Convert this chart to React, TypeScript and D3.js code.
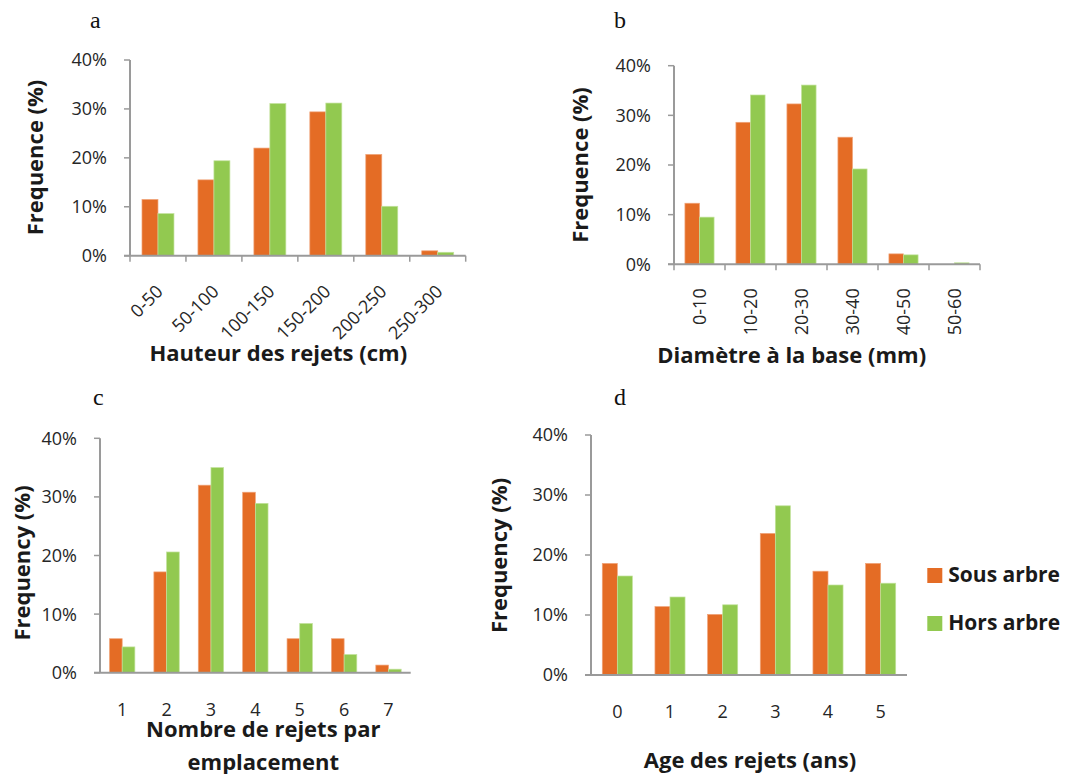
import React from 'react';
import * as d3 from 'd3';

// Shoot frequencies (%) under the tree canopy ("Sous arbre") and in the open ("Hors arbre")
const heightCats = ['0-50', '50-100', '100-150', '150-200', '200-250', '250-300'];
const heightSous = [11.5, 15.5, 22.0, 29.4, 20.7, 1.0];
const heightHors = [8.6, 19.4, 31.1, 31.2, 10.1, 0.7];

const diamCats = ['0-10', '10-20', '20-30', '30-40', '40-50', '50-60'];
const diamSous = [12.3, 28.6, 32.3, 25.6, 2.1, 0];
const diamHors = [9.5, 34.1, 36.1, 19.2, 1.9, 0.3];

const countCats = ['1', '2', '3', '4', '5', '6', '7'];
const countSous = [5.8, 17.2, 32.0, 30.8, 5.8, 5.8, 1.3];
const countHors = [4.4, 20.6, 35.0, 28.9, 8.4, 3.1, 0.6];

const ageCats = ['0', '1', '2', '3', '4', '5'];
const ageSous = [18.6, 11.4, 10.1, 23.6, 17.3, 18.6];
const ageHors = [16.5, 13.0, 11.7, 28.2, 15.0, 15.3];

const yTicks = [0, 10, 20, 30, 40];
const seriesNames = ['Sous arbre', 'Hors arbre'];

const ORANGE = '#E46C25';
const ORANGE_EDGE = '#F0A47A';
const GREEN = '#92C950';
const GREEN_EDGE = '#C2E29C';
const AXIS = '#9a9a9a';
const TEXT = '#262626';
const SANS = "'Open Sans', sans-serif";
const SERIF = "'Liberation Serif', serif";
const TICK_FONT = 18;

type LabelMode = 'flat' | 'rot45' | 'rot90';

interface PanelProps {
  letter: string;
  letterX: number;
  letterY: number;
  cats: string[];
  sous: number[];
  hors: number[];
  x0: number;
  x1: number;
  yTop: number;
  yBot: number;
  xTicks: boolean;
  labelMode: LabelMode;
  yTitle: string;
  yTitleX: number;
  yTitleY: number;
  xTitle: string[];
  xTitleX: number;
  xTitleY: number;
}

function Panel(p: PanelProps) {
  const x = d3.scaleBand<string>().domain(p.cats).range([p.x0, p.x1]).padding(0);
  const y = d3.scaleLinear().domain([0, 40]).range([p.yBot, p.yTop]);
  const step = x.step();
  const bw = step / 3.5; // Excel-style 150% gap width
  const fmt = (v: number) => `${v}%`;

  return (
    <g>
      <text x={p.letterX} y={p.letterY} fontFamily={SERIF} fontSize={24} fill="#111">
        {p.letter}
      </text>

      {/* bars */}
      {p.cats.map((c, i) => {
        const cx = (x(c) as number) + step / 2;
        return (
          <g key={c}>
            {p.sous[i] > 0 && (
              <rect
                x={cx - bw}
                y={y(p.sous[i])}
                width={bw}
                height={y(0) - y(p.sous[i])}
                fill={ORANGE}
                stroke={ORANGE_EDGE}
                strokeWidth={0.7}
              />
            )}
            {p.hors[i] > 0 && (
              <rect
                x={cx}
                y={y(p.hors[i])}
                width={bw}
                height={y(0) - y(p.hors[i])}
                fill={GREEN}
                stroke={GREEN_EDGE}
                strokeWidth={0.7}
              />
            )}
          </g>
        );
      })}

      {/* y axis */}
      <line x1={p.x0} x2={p.x0} y1={p.yTop} y2={p.yBot} stroke={AXIS} strokeWidth={2} />
      {yTicks.map((t) => (
        <g key={t}>
          <line x1={p.x0 - 6} x2={p.x0} y1={y(t)} y2={y(t)} stroke={AXIS} strokeWidth={1.5} />
          <text
            x={p.x0 - 23}
            y={y(t)}
            dy="0.36em"
            textAnchor="end"
            fontFamily={SANS}
            fontSize={TICK_FONT}
            fill={TEXT}
          >
            {fmt(t)}
          </text>
        </g>
      ))}

      {/* x axis */}
      <line x1={p.x0 - 6} x2={p.x1} y1={p.yBot} y2={p.yBot} stroke={AXIS} strokeWidth={2} />
      {p.xTicks &&
        d3.range(p.cats.length + 1).map((i) => {
          const tx = p.x0 + i * step;
          return <line key={i} x1={tx} x2={tx} y1={p.yBot} y2={p.yBot + 6} stroke={AXIS} strokeWidth={1.5} />;
        })}
      {p.cats.map((c) => {
        const cx = (x(c) as number) + step / 2;
        if (p.labelMode === 'flat') {
          return (
            <text key={c} x={cx} y={p.yBot + 43} textAnchor="middle" fontFamily={SANS} fontSize={TICK_FONT} fill={TEXT}>
              {c}
            </text>
          );
        }
        if (p.labelMode === 'rot45') {
          const ax = cx + 6;
          const ay = p.yBot + 37;
          return (
            <text
              key={c}
              x={ax}
              y={ay}
              transform={`rotate(-45 ${ax} ${ay})`}
              textAnchor="end"
              fontFamily={SANS}
              fontSize={TICK_FONT}
              fill={TEXT}
            >
              {c}
            </text>
          );
        }
        const ay = p.yBot + 24;
        return (
          <text
            key={c}
            x={cx}
            y={ay}
            dy="0.36em"
            transform={`rotate(-90 ${cx} ${ay})`}
            textAnchor="end"
            fontFamily={SANS}
            fontSize={TICK_FONT}
            fill={TEXT}
          >
            {c}
          </text>
        );
      })}

      {/* axis titles */}
      <text
        x={p.yTitleX}
        y={p.yTitleY}
        dy="0.36em"
        transform={`rotate(-90 ${p.yTitleX} ${p.yTitleY})`}
        textAnchor="middle"
        fontFamily={SANS}
        fontWeight="bold"
        fontSize={22}
        fill="#1a1a1a"
      >
        {p.yTitle}
      </text>
      {p.xTitle.map((line, i) => (
        <text
          key={line}
          x={p.xTitleX}
          y={p.xTitleY + i * 33}
          textAnchor="middle"
          fontFamily={SANS}
          fontWeight="bold"
          fontSize={22}
          fill="#1a1a1a"
        >
          {line}
        </text>
      ))}
    </g>
  );
}

export default function App() {
  return (
    <svg
      width={1065}
      height={774}
      style={{ position: 'absolute', left: 0, top: 0, background: '#fff' }}
    >
      <rect width={1065} height={774} fill="#fff" />
      <Panel
        letter="a"
        letterX={90}
        letterY={28}
        cats={heightCats}
        sous={heightSous}
        hors={heightHors}
        x0={130}
        x1={465.7}
        yTop={60}
        yBot={255.7}
        xTicks={true}
        labelMode="rot45"
        yTitle="Frequence (%)"
        yTitleX={35}
        yTitleY={157.5}
        xTitle={['Hauteur des rejets (cm)']}
        xTitleX={278.3}
        xTitleY={361}
      />
      <Panel
        letter="b"
        letterX={614}
        letterY={28}
        cats={diamCats}
        sous={diamSous}
        hors={diamHors}
        x0={674}
        x1={980}
        yTop={65.7}
        yBot={264.3}
        xTicks={true}
        labelMode="rot90"
        yTitle="Frequence (%)"
        yTitleX={580}
        yTitleY={165}
        xTitle={['Diamètre à la base (mm)']}
        xTitleX={791.7}
        xTitleY={363}
      />
      <Panel
        letter="c"
        letterX={93}
        letterY={405}
        cats={countCats}
        sous={countSous}
        hors={countHors}
        x0={100}
        x1={410.7}
        yTop={438.3}
        yBot={672.7}
        xTicks={false}
        labelMode="flat"
        yTitle="Frequency (%)"
        yTitleX={22}
        yTitleY={563}
        xTitle={['Nombre de rejets par', 'emplacement']}
        xTitleX={263.3}
        xTitleY={737}
      />
      <Panel
        letter="d"
        letterX={614}
        letterY={405}
        cats={ageCats}
        sous={ageSous}
        hors={ageHors}
        x0={591}
        x1={907}
        yTop={435}
        yBot={675}
        xTicks={false}
        labelMode="flat"
        yTitle="Frequency (%)"
        yTitleX={498.7}
        yTitleY={555.5}
        xTitle={['Age des rejets (ans)']}
        xTitleX={750}
        xTitleY={768}
      />

      {/* legend */}
      {seriesNames.map((name, i) => (
        <g key={name}>
          <rect x={927.3} y={568 + i * 48} width={15} height={15} fill={i === 0 ? ORANGE : GREEN} />
          <text
            x={948.3}
            y={582.3 + i * 48}
            fontFamily={SANS}
            fontWeight="bold"
            fontSize={21}
            fill="#1a1a1a"
          >
            {name}
          </text>
        </g>
      ))}
    </svg>
  );
}
